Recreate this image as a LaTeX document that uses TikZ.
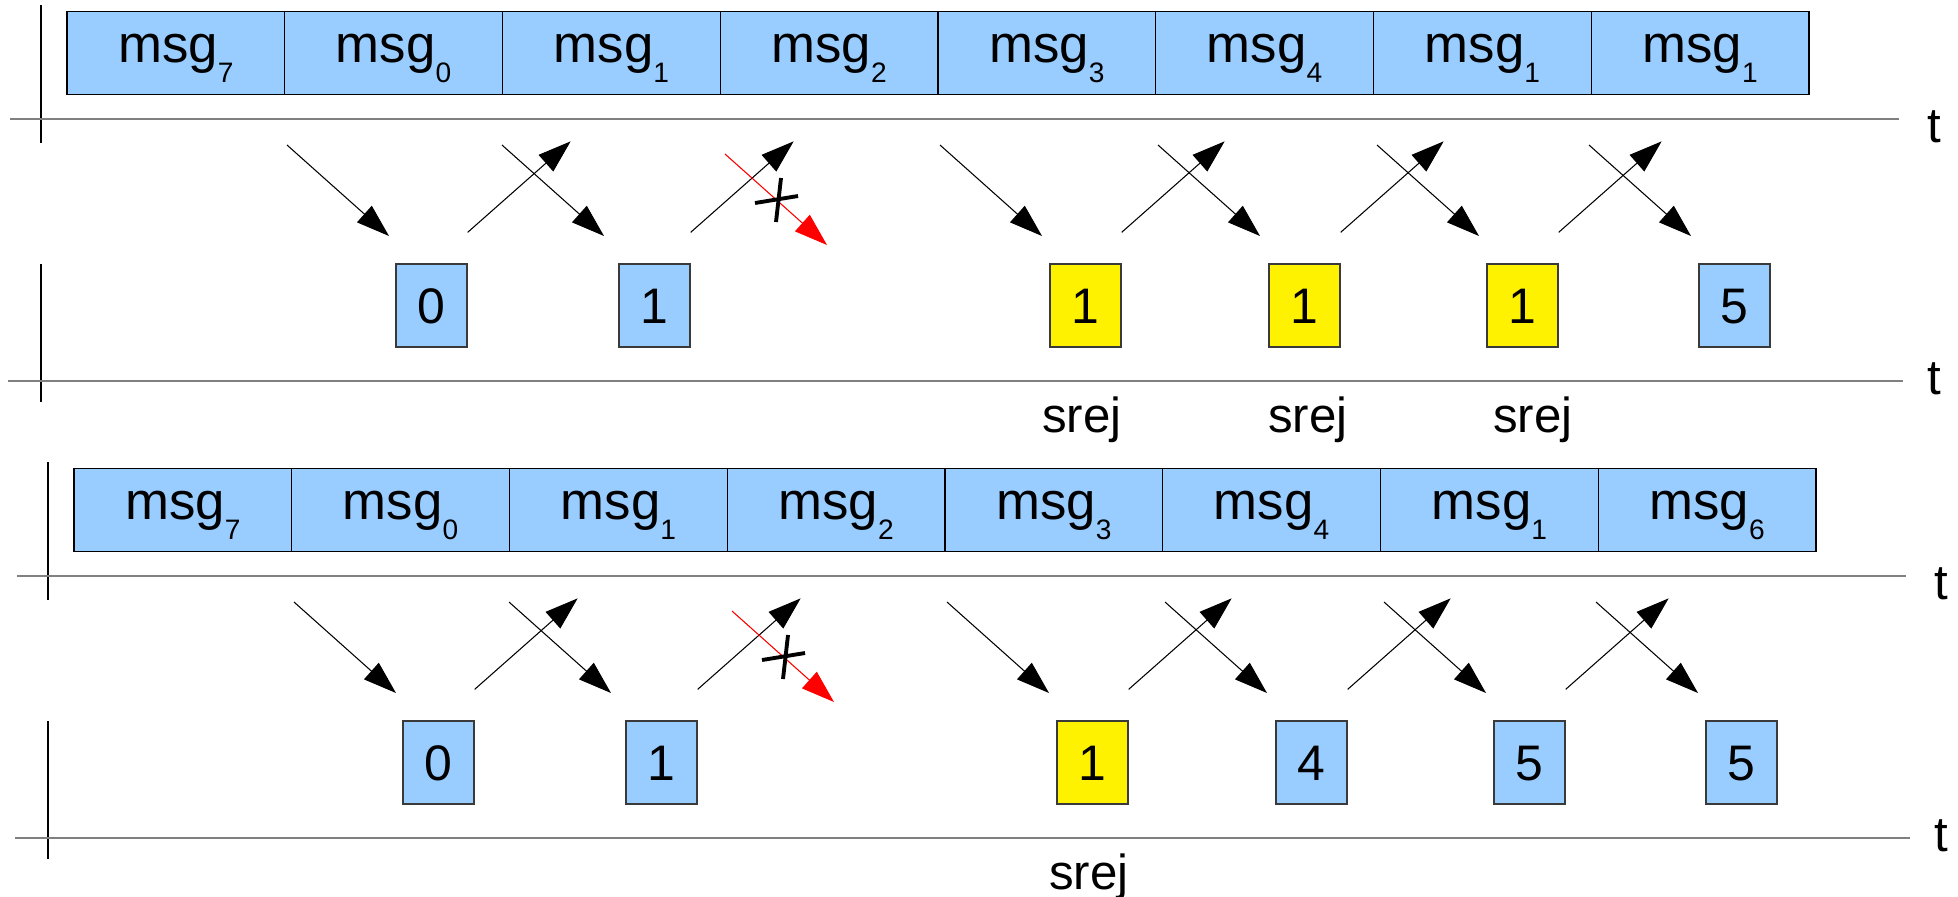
\documentclass[tikz,border=0pt]{standalone}
\usepackage{fontspec}
\setmainfont{Liberation Sans}
\usetikzlibrary{arrows.meta}
\definecolor{msgblue}{HTML}{99CCFF}
\definecolor{axisgray}{HTML}{808080}
\definecolor{boxedge}{HTML}{3A3A3A}
\newcommand\msgsub[1]{\raisebox{-5.9pt}{\fontsize{8}{9}\selectfont #1}}
\newcommand\drawpanel[4]{%
\begin{scope}[shift={#2}]
  % axes
  \draw[vaxis] (41,5) -- (41,143);
  \draw[vaxis] (41,264) -- (41,402);
  \draw[taxis] (10,119) -- (1899,119);
  \draw[taxis] (8,381) -- (1903,381);
  \node[lbl] (#1t1) at (1934,142) {t};
  \node[lbl] (#1t2) at (1934,394) {t};
  % message boxes
  \foreach \s [count=\i from 0] in {#3} {
    \pgfmathsetmacro\xc{67+217.75*\i+108.875}
    \node[msgbox] (#1m\i) at (\xc,53) {msg\msgsub{\s}};
  }
  % receiver boxes
  \foreach \xl/\v/\st [count=\i] in {#4} {
    \node[\st] (#1n\i) at (\xl+35.5,305.5) {\v};
  }
  % frames sent
  \foreach \x [count=\i] in {287,502,940,1158,1377,1589} {
    \coordinate (#1ds\i) at (\x,145);
    \draw[msgarrow] (#1ds\i) -- ++(102,91);
  }
  % acknowledgements
  \foreach \i in {1,2,3,4,5} {
    \coordinate (#1us\i) at ([yshift=0.31cm]#1n\i.north east);
    \draw[msgarrow] (#1us\i) -- ++(103,-91);
  }
  % lost frame
  \coordinate (#1lost) at (725,154);
  \draw[lostarrow] (#1lost) -- ++(102,91);
  \draw[xmark] (755,203) -- (798,196);
  \draw[xmark] (781,178) -- (776,222);
\end{scope}}
\begin{document}
\begin{tikzpicture}[x=0.01cm,y=-0.01cm,
  msgbox/.style={draw=black, fill=msgblue, line width=0.35pt, inner sep=0pt,
    minimum width=2.1775cm, text height=0.503cm, text depth=0.323cm,
    font=\fontsize{15}{18}\selectfont},
  numbox/.style={draw=boxedge, fill=msgblue, line width=0.35pt, inner sep=0pt,
    minimum width=0.71cm, text height=0.59cm, text depth=0.24cm,
    font=\fontsize{14.2}{17}\selectfont},
  yelbox/.style={numbox, fill=yellow},
  lbl/.style={anchor=base, inner sep=0pt, font=\fontsize{14}{17}\selectfont},
  taxis/.style={draw=axisgray, line width=0.6pt},
  vaxis/.style={draw=black, line width=0.4pt},
  msgarrow/.style={line width=0.3pt, -{Triangle[length=0.33cm,width=0.22cm]}},
  lostarrow/.style={msgarrow, draw=red, fill=red},
  xmark/.style={line width=1.1pt}
]
\useasboundingbox (0,0) rectangle (1958,896);
\drawpanel{a}{(0,0)}{7,0,1,2,3,4,1,1}{396/0/numbox,619/1/numbox,1050/1/yelbox,1269/1/yelbox,1487/1/yelbox,1699/5/numbox}
\drawpanel{b}{(7,457)}{7,0,1,2,3,4,1,6}{396/0/numbox,619/1/numbox,1050/1/yelbox,1269/4/numbox,1487/5/numbox,1699/5/numbox}
\node[lbl] (s1) at (1082,432) {srej};
\node[lbl] (s2) at (1308,432) {srej};
\node[lbl] (s3) at (1533,432) {srej};
\node[lbl] (s4) at (1089,889) {srej};
\end{tikzpicture}
\end{document}
